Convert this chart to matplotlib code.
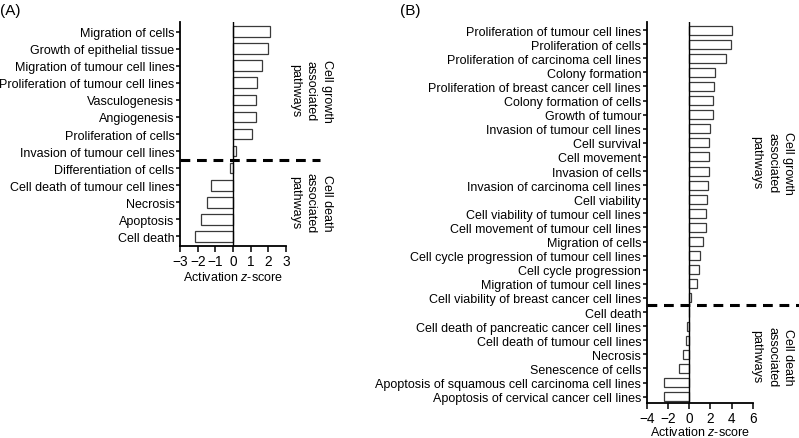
import matplotlib
matplotlib.use("Agg")
import matplotlib.pyplot as plt
import matplotlib.transforms as mtransforms

plt.rcParams['font.family'] = ['Liberation Sans', 'DejaVu Sans']
plt.rcParams['mathtext.fontset'] = 'custom'
plt.rcParams['mathtext.it'] = 'Liberation Sans:italic'
plt.rcParams['mathtext.rm'] = 'Liberation Sans'

# ---- Panel A data ----
labels_a = ["Migration of cells", "Growth of epithelial tissue", "Migration of tumour cell lines",
            "Proliferation of tumour cell lines", "Vasculogenesis", "Angiogenesis",
            "Proliferation of cells", "Invasion of tumour cell lines", "Differentiation of cells",
            "Cell death of tumour cell lines", "Necrosis", "Apoptosis", "Cell death"]
values_a = [2.11, 2.0, 1.66, 1.38, 1.32, 1.28, 1.07, 0.19, -0.17, -1.26, -1.5, -1.79, -2.14]
xticks_a = [-3, -2, -1, 0, 1, 2, 3]

# ---- Panel B data ----
labels_b = ["Proliferation of tumour cell lines", "Proliferation of cells",
            "Proliferation of carcinoma cell lines", "Colony formation",
            "Proliferation of breast cancer cell lines", "Colony formation of cells",
            "Growth of tumour", "Invasion of tumour cell lines", "Cell survival",
            "Cell movement", "Invasion of cells", "Invasion of carcinoma cell lines",
            "Cell viability", "Cell viability of tumour cell lines",
            "Cell movement of tumour cell lines", "Migration of cells",
            "Cell cycle progression of tumour cell lines", "Cell cycle progression",
            "Migration of tumour cell lines", "Cell viability of breast cancer cell lines",
            "Cell death", "Cell death of pancreatic cancer cell lines",
            "Cell death of tumour cell lines", "Necrosis", "Senescence of cells",
            "Apoptosis of squamous cell carcinoma cell lines",
            "Apoptosis of cervical cancer cell lines"]
values_b = [3.98, 3.94, 3.5, 2.47, 2.31, 2.25, 2.25, 1.97, 1.9, 1.87, 1.87, 1.78, 1.69,
            1.6, 1.6, 1.25, 1.0, 0.94, 0.75, 0.15, 0.0, -0.25, -0.31, -0.56, -0.97,
            -2.34, -2.4]
xticks_b = [-4, -2, 0, 2, 4, 6]

W, H = 799, 439
fig = plt.figure(figsize=(W / 100, H / 100), dpi=100)

FS = 9.0


def px_axes(x0, x1, y0, y1):
    return fig.add_axes([x0 / W, 1 - y1 / H, (x1 - x0) / W, (y1 - y0) / H])


def draw_panel(ax, labels, values, xticks, sep, dash_extent, pad_top, pad_bot, labelpad):
    n = len(labels)
    y = list(range(n))
    ax.barh(y, values, height=0.64, color='white', edgecolor='#3a3a3a', linewidth=0.9, zorder=2)
    ax.axvline(0, color='black', linewidth=1.0, zorder=3)
    ax.set_xlim(xticks[0], xticks[-1])
    ax.set_ylim(n - 1 + pad_bot, -pad_top)
    ax.set_yticks(y)
    ax.set_yticklabels(labels, fontsize=FS)
    ax.set_xticks(xticks)
    ax.set_xticklabels([str(t).replace('-', '\u2212') for t in xticks], fontsize=FS + 0.8)
    for s in ['top', 'right']:
        ax.spines[s].set_visible(False)
    for s in ['left', 'bottom']:
        ax.spines[s].set_linewidth(1.3)
    ax.tick_params(axis='y', length=3, width=1.1, pad=1)
    ax.tick_params(axis='x', length=4, width=1.1, pad=1.5)
    ax.set_xlabel('Activation $z$-score', fontsize=FS, labelpad=labelpad)
    trans = mtransforms.blended_transform_factory(ax.transAxes, ax.transData)
    ax.plot([0, dash_extent], [sep, sep], transform=trans, color='black',
            linewidth=2.2, linestyle=(0, (3.2, 2.2)), clip_on=False, zorder=4)


axA = px_axes(180, 286, 23, 247)
draw_panel(axA, labels_a, values_a, xticks_a, 7.5, (320 - 180) / (286 - 180), 0.58, 0.58, 2)

axB = px_axes(646.7, 753, 23, 404)
draw_panel(axB, labels_b, values_b, xticks_b, 19.5, (799 - 646.7) / (753 - 646.7), 0.57, 0.45, 0.3)


def ftext(x, y, s, **kw):
    fig.text(x / W, 1 - y / H, s, **kw)


kw = dict(rotation=270, ha='center', va='center', fontsize=FS, multialignment='center',
          linespacing=1.45)
ftext(311, 91, "Cell growth\nassociated\npathways", **kw)
ftext(311, 203, "Cell death\nassociated\npathways", **kw)
ftext(772, 163, "Cell growth\nassociated\npathways", **kw)
ftext(772, 357, "Cell death\nassociated\npathways", **kw)

ftext(0, 11, "(A)", fontsize=11, ha='left', va='center')
ftext(400, 11, "(B)", fontsize=11, ha='left', va='center')

fig.savefig("out.png", dpi=100)
